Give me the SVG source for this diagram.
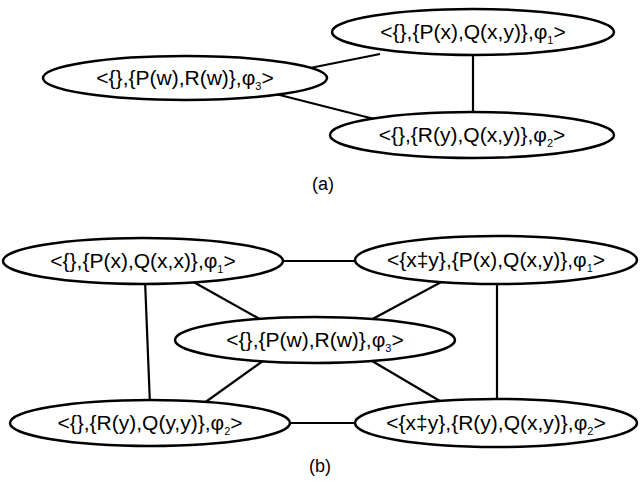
<svg xmlns="http://www.w3.org/2000/svg" width="640" height="485" viewBox="0 0 640 485">
<style>
ellipse{fill:#fff;stroke:#000;stroke-width:2.5}
line{stroke:#000;stroke-width:2.2}
text{font-family:"Liberation Sans",Arial,sans-serif;font-size:21px;text-anchor:middle;fill:#000}
.s{font-size:11px}
</style>
<rect width="640" height="485" fill="#fff"/>
<g id="connectors">
<line x1="380" y1="54" x2="285" y2="73"/>
<line x1="473" y1="50" x2="473" y2="118"/>
<line x1="260" y1="90" x2="390" y2="123"/>
<line x1="280" y1="261" x2="360" y2="261"/>
<line x1="285" y1="423" x2="360" y2="423"/>
<line x1="190" y1="280" x2="265" y2="322"/>
<line x1="445" y1="280" x2="367" y2="322"/>
<line x1="267" y1="358" x2="200" y2="406"/>
<line x1="367" y1="358" x2="445" y2="404"/>
<line x1="145" y1="280" x2="150" y2="405"/>
<line x1="497" y1="280" x2="497" y2="404"/>
</g>
<g id="a1"><ellipse cx="473" cy="32" rx="141" ry="23"/><text x="473" y="39">&lt;{},{P(x),Q(x,y)},φ<tspan class="s" dy="5">1</tspan><tspan dy="-5">&gt;</tspan></text></g>
<g id="a3"><ellipse cx="185" cy="78" rx="142" ry="22"/><text x="185" y="85">&lt;{},{P(w),R(w)},φ<tspan class="s" dy="5">3</tspan><tspan dy="-5">&gt;</tspan></text></g>
<g id="a2"><ellipse cx="472" cy="135" rx="142" ry="23"/><text x="472" y="142">&lt;{},{R(y),Q(x,y)},φ<tspan class="s" dy="5">2</tspan><tspan dy="-5">&gt;</tspan></text></g>
<text x="323" y="190" style="font-size:18px">(a)</text>
<g id="b1"><ellipse cx="143" cy="261" rx="140" ry="23"/><text x="143" y="268">&lt;{},{P(x),Q(x,x)},φ<tspan class="s" dy="5">1</tspan><tspan dy="-5">&gt;</tspan></text></g>
<g id="b2"><ellipse cx="496" cy="260" rx="141" ry="24"/><text x="496" y="267">&lt;{x‡y},{P(x),Q(x,y)},φ<tspan class="s" dy="5">1</tspan><tspan dy="-5">&gt;</tspan></text></g>
<g id="b3"><ellipse cx="315" cy="340" rx="140" ry="23"/><text x="315" y="347">&lt;{},{P(w),R(w)},φ<tspan class="s" dy="5">3</tspan><tspan dy="-5">&gt;</tspan></text></g>
<g id="b4"><ellipse cx="150" cy="423" rx="140" ry="23"/><text x="150" y="430">&lt;{},{R(y),Q(y,y)},φ<tspan class="s" dy="5">2</tspan><tspan dy="-5">&gt;</tspan></text></g>
<g id="b5"><ellipse cx="496" cy="423" rx="141" ry="24"/><text x="496" y="430">&lt;{x‡y},{R(y),Q(x,y)},φ<tspan class="s" dy="5">2</tspan><tspan dy="-5">&gt;</tspan></text></g>
<text x="320" y="472" style="font-size:18px">(b)</text>
</svg>
